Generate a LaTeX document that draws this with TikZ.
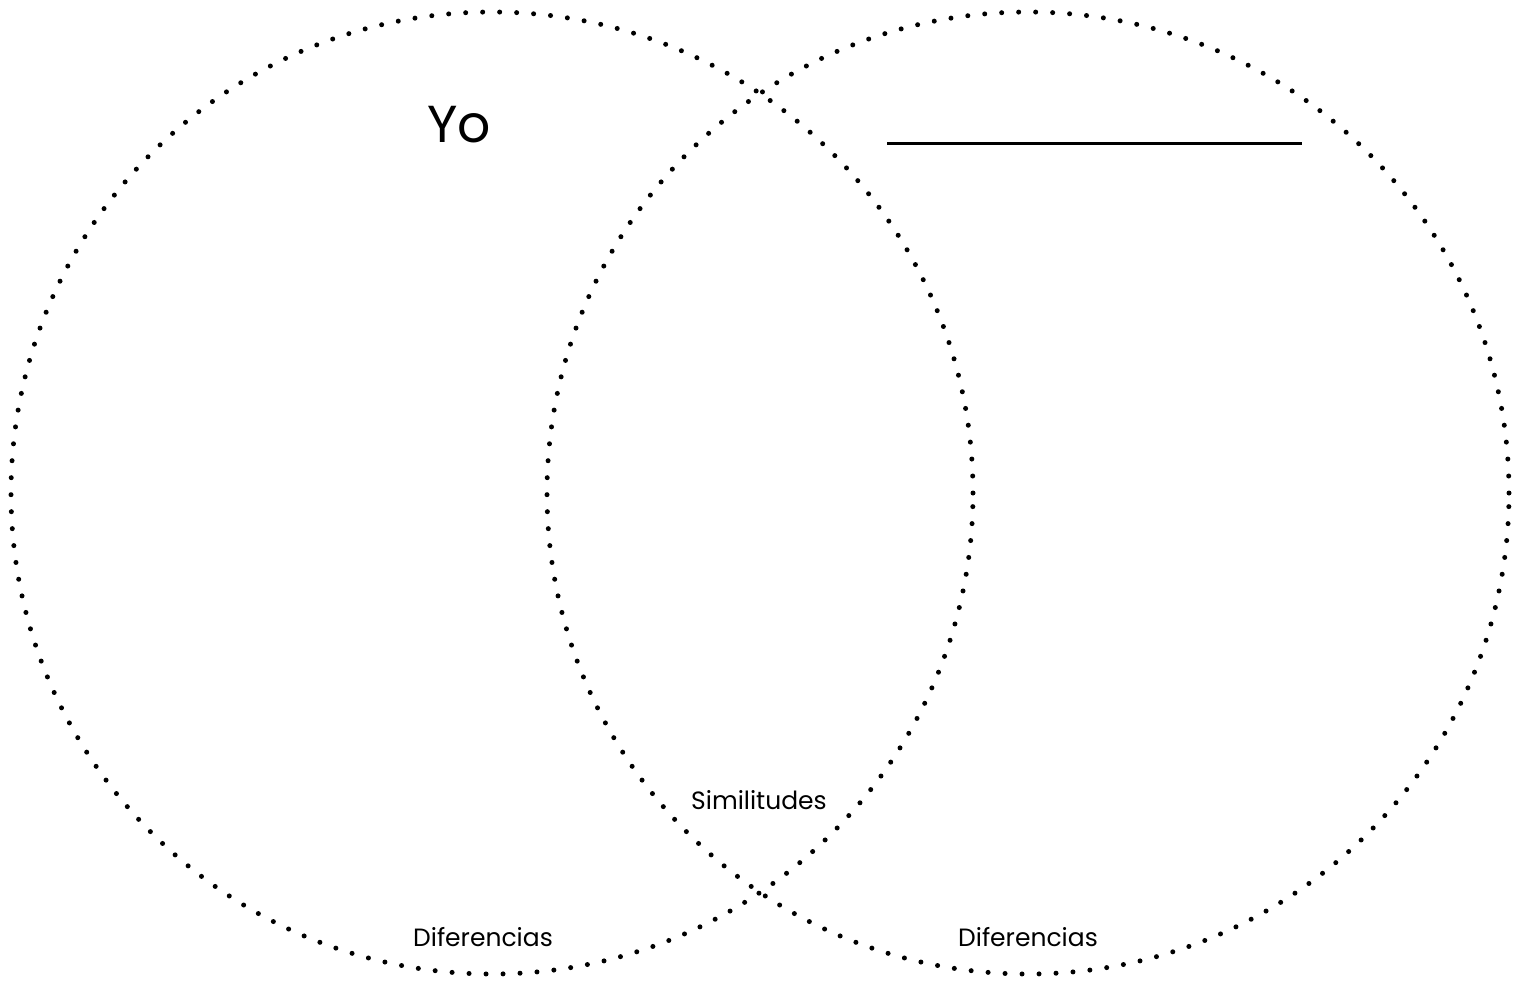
\documentclass[tikz,border=0pt]{standalone}
\usepackage{fontspec}
\setmainfont{Poppins}
\usetikzlibrary{positioning}

\begin{document}
\begin{tikzpicture}[
    x=1pt, y=-1pt,
    venn/.style={circle, draw=black, line width=5pt, line cap=round, dash pattern=on 0pt off 17pt, minimum size=962pt, inner sep=0pt},
    title/.style={anchor=base, inner sep=0pt, font=\fontsize{52}{60}\selectfont},
    tag/.style={anchor=base, inner sep=0pt, font=\fontsize{25}{30}\selectfont},
    blank/.style={line width=3pt}
]
\useasboundingbox (0,0) rectangle (1527,983);

% Circles
\node[venn] (me) at (492,493) {};
\node[venn] (other) at (1028,493) {};

% Titles
\node[title] (yo) at (459,142) {Yo};
\coordinate (blankL) at (887,143);
\coordinate (blankR) at (1302,143);
\draw[blank] (blankL) -- (blankR);

% Labels
\node[tag] (sim) at (759,809) {Similitudes};
\node[tag] (difL) at (483,946) {Diferencias};
\node[tag] (difR) at (1028,946) {Diferencias};

\end{tikzpicture}
\end{document}
